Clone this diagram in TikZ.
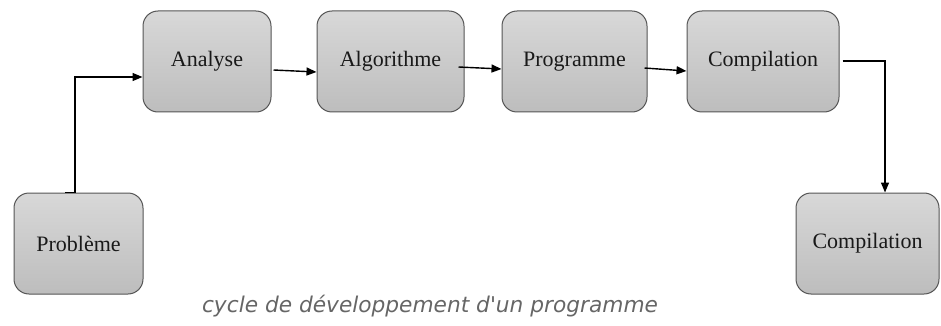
\documentclass[tikz,border=0pt]{standalone}
\usepackage{fontspec}
\setmainfont{Liberation Serif}
\newfontfamily\capfont{DejaVu Sans}
\usetikzlibrary{arrows.meta}
\definecolor{boxtop}{HTML}{D8D8D8}
\definecolor{boxbot}{HTML}{BDBDBD}
\definecolor{boxline}{HTML}{555555}
\definecolor{captxt}{HTML}{666666}
\begin{document}
\begin{tikzpicture}[x=1pt,y=-1pt,
  stepbox/.style={draw=boxline,line width=1pt,rounded corners=15pt,
    top color=boxtop,bottom color=boxbot,minimum height=101pt,inner sep=0pt,
    font=\fontsize{22}{24}\selectfont,text=black!90},
  conn/.style={line width=1.4pt,-{Triangle[length=10pt,width=8pt]}}]
\useasboundingbox (0,0) rectangle (941,326);
\node[stepbox,minimum width=128pt] (an) at (207,61.5) {Analyse};
\node[stepbox,minimum width=147pt] (al) at (390.5,61.5) {Algorithme};
\node[stepbox,minimum width=145pt] (pg) at (574.5,61.5) {Programme};
\node[stepbox,minimum width=152pt] (cp) at (763,61.5) {Compilation};
\node[stepbox,minimum width=129pt] (pb) at (78.5,243.5) {Problème};
\node[stepbox,minimum width=143pt] (cb) at (867.5,243.5) {Compilation};
\draw[conn] ([xshift=-13.5pt]pb.north) -- ++(10,0) |- ([yshift=-15.5pt]an.west);
\draw[conn] ([xshift=2pt,yshift=-8.5pt]an.east) -- ([yshift=-10.5pt]al.west);
\draw[conn] ([xshift=-6pt,yshift=-5.5pt]al.east) -- ([yshift=-7.5pt]pg.west);
\draw[conn] ([xshift=-3pt,yshift=-6.5pt]pg.east) -- ([yshift=-9.5pt]cp.west);
\draw[conn] ([xshift=3pt,yshift=0.5pt]cp.east) -| ([xshift=17.5pt]cb.north);
\node[anchor=base,text=captxt,font=\capfont\itshape\fontsize{21.7}{24}\selectfont] (cap) at (430,312) {cycle de développement d'un programme};
\end{tikzpicture}
\end{document}
